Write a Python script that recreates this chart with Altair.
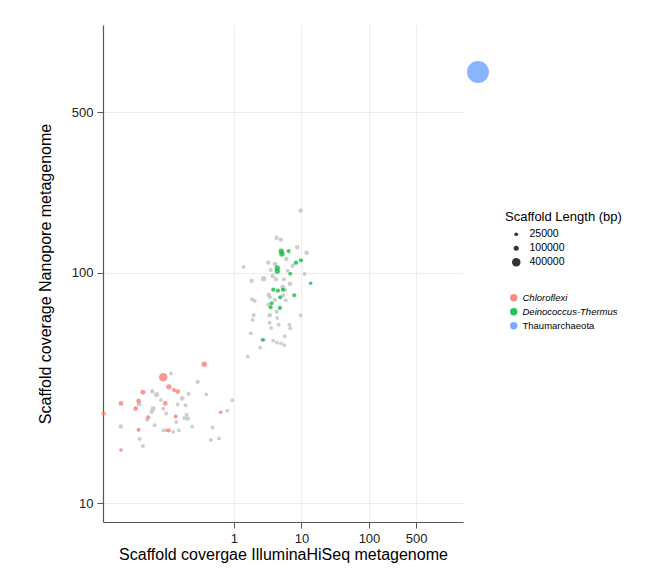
import altair as alt
import pandas as pd

# Unclassified scaffolds (grey)
other_x = [0.1166, 0.29, 0.0616, 0.0716, 0.213, 0.389, 0.083, 0.1715, 0.944, 0.0395,
           0.0637, 0.0897, 0.1466, 0.1925, 0.0604, 0.0993, 0.199, 0.796, 0.052, 0.1835,
           0.206, 0.14, 0.0669, 0.241, 0.0212, 0.483, 0.0897, 0.0983, 0.126, 0.153,
           0.0401, 0.456, 0.6, 0.0449, 1.596,
           9.73, 4.29, 4.97, 8.67, 11.94, 1.39, 3.22, 4.05, 5.95, 7.41,
           6.25, 3.5, 11.15, 1.83, 2.75, 3.74, 4.19, 5.5, 6.76, 5.32,
           3.27, 3.41, 5.75, 5.37, 1.85, 2.03, 4.05, 3.22, 5.83, 3.38,
           1.96, 4.29, 4.38, 9.73, 1.89, 3.38, 4.59, 6.6, 6.82, 3.57,
           1.77, 5.64, 2.81, 3.82, 4.34, 4.97, 5.56, 2.45]
other_y = [36.6, 33.6, 30.6, 29.6, 29.8, 29.7, 28.0, 28.5, 28.0, 26.9,
           25.7, 25.7, 26.8, 26.6, 24.9, 24.5, 24.2, 25.2, 23.0, 23.4,
           23.3, 22.5, 21.8, 21.5, 21.5, 21.3, 20.7, 20.7, 20.4, 20.7,
           19.0, 18.8, 19.1, 17.7, 43.3,
           186.7, 142.4, 139.6, 129.4, 122.5, 106.2, 110.9, 109.4, 115.1, 107.6,
           102.3, 103.0, 99.0, 92.6, 94.4, 97.0, 93.9, 93.9, 89.6, 86.7,
           80.5, 78.4, 84.3, 80.0, 76.9, 75.5, 76.4, 72.8, 76.1, 65.5,
           65.6, 67.9, 63.7, 65.5, 62.5, 60.8, 59.6, 59.6, 57.5, 57.7,
           54.7, 53.1, 51.2, 50.8, 49.8, 49.5, 48.6, 47.3]
other_len = [30000, 50000, 60000, 120000, 40000, 25000, 20000, 80000, 30000, 90000,
             90000, 30000, 40000, 40000, 50000, 40000, 40000, 25000, 50000, 40000,
             80000, 30000, 40000, 25000, 60000, 40000, 30000, 30000, 25000, 25000,
             40000, 40000, 30000, 40000, 25000,
             60000, 60000, 60000, 70000, 70000, 40000, 60000, 80000, 60000, 60000,
             40000, 40000, 40000, 60000, 120000, 60000, 60000, 40000, 80000, 100000,
             60000, 40000, 40000, 40000, 40000, 40000, 40000, 40000, 30000, 60000,
             40000, 40000, 30000, 25000, 30000, 30000, 40000, 30000, 30000, 30000,
             30000, 30000, 30000, 30000, 25000, 25000, 30000, 30000]

# Chloroflexi
chloro_x = [0.0897, 0.363, 0.109, 0.129, 0.1466, 0.0449, 0.0212, 0.0387, 0.096, 0.035,
            0.0537, 0.137, 0.0387, 0.108, 0.635, 0.0212, 0.0118]
chloro_y = [35.2, 40.1, 32.0, 31.0, 30.5, 30.3, 27.1, 27.8, 27.1, 25.7,
            23.6, 23.8, 20.8, 20.7, 24.8, 17.0, 24.5]
chloro_len = [400000, 120000, 120000, 50000, 90000, 90000, 80000, 70000, 80000, 80000,
              50000, 40000, 40000, 60000, 20000, 20000, 40000]

# Deinococcus-Thermus
deino_x = [5.02, 5.14, 6.46, 9.83, 8.29, 4.38, 4.38, 6.82, 13.7, 3.82,
           4.48, 5.32, 4.85, 7.82, 3.62, 3.5, 4.8, 2.66]
deino_y = [124.3, 121.0, 124.6, 113.5, 110.9, 105.1, 101.7, 99.3, 90.2, 84.6,
           83.8, 84.6, 78.4, 80.0, 73.8, 71.0, 70.5, 51.2]
deino_len = [120000, 120000, 50000, 50000, 60000, 120000, 120000, 30000, 20000, 50000,
             50000, 40000, 50000, 40000, 40000, 40000, 50000, 30000]

# Thaumarchaeota
thaum_x = [4120]
thaum_y = [748]
thaum_len = [3000000]

taxa = ["Chloroflexi", "Deinococcus-Thermus", "Thaumarchaeota", "Other"]
colors = ["#F8766D", "#00BA38", "#619CFF", "#BDBDBD"]
x_ticks = [1, 10, 100, 500]
y_ticks = [10, 100, 500]
size_legend_values = [25000, 100000, 400000]

frames = []
for name, xs, ys, ls in [("Other", other_x, other_y, other_len),
                         ("Chloroflexi", chloro_x, chloro_y, chloro_len),
                         ("Deinococcus-Thermus", deino_x, deino_y, deino_len),
                         ("Thaumarchaeota", thaum_x, thaum_y, thaum_len)]:
    frames.append(pd.DataFrame({"illumina": xs, "nanopore": ys, "length": ls, "taxon": name}))
df = pd.concat(frames, ignore_index=True)

FONT = "Liberation Sans"

chart = alt.Chart(df).mark_circle(opacity=0.75).encode(
    x=alt.X("illumina:Q",
            scale=alt.Scale(type="log", domain=[0.0115, 2470], nice=False),
            axis=alt.Axis(values=x_ticks, labelExpr="datum.value + ''",
                          title="Scaffold covergae IlluminaHiSeq metagenome")),
    y=alt.Y("nanopore:Q",
            scale=alt.Scale(type="log", domain=[8.27, 1197], nice=False),
            axis=alt.Axis(values=y_ticks, labelExpr="datum.value + ''",
                          title="Scaffold coverage Nanopore metagenome")),
    color=alt.Color("taxon:N",
                    scale=alt.Scale(domain=taxa, range=colors),
                    legend=alt.Legend(values=taxa[:3], title=None, orient="none",
                                      legendX=406, legendY=268,
                                      symbolType="circle", symbolSize=55,
                                      symbolOpacity=0.85,
                                      labelFontSize=9.5, labelFont=FONT,
                                      rowPadding=3, symbolStrokeWidth=0,
                                      labelFontStyle=alt.ExprRef("datum.label == 'Thaumarchaeota' ? 'normal' : 'italic'"))),
    size=alt.Size("length:Q",
                  scale=alt.Scale(domain=[0, 3000000], range=[10, 480]),
                  legend=alt.Legend(values=size_legend_values, title="Scaffold Length (bp)",
                                    format="d",
                                    orient="none", legendX=402, legendY=186,
                                    titleFontSize=13, titleFont=FONT, titleFontWeight="normal",
                                    titleColor="#000000",
                                    labelFontSize=10.5, labelFont=FONT,
                                    symbolType="circle", symbolFillColor="#333333",
                                    symbolStrokeWidth=0, symbolOpacity=1,
                                    symbolOffset=6, labelOffset=8,
                                    rowPadding=3)),
).properties(
    width=360, height=497,
    autosize=alt.AutoSizeParams(type="none"),
    padding={"left": 95, "top": 17, "right": 186, "bottom": 43},
).configure_axis(
    labelFont=FONT, titleFont=FONT, labelFontSize=13, titleFontSize=16,
    titleFontWeight="normal", labelColor="#222222", titleColor="#000000",
    domainColor="#555555", tickColor="#555555", tickSize=6, domainWidth=1.2,
    gridColor="#EDEDED", gridWidth=1, labelPadding=4,
).configure_axisX(titlePadding=1).configure_axisY(titlePadding=18).configure_view(
    stroke="transparent"
)

chart.save("out.html", embed_options={"renderer": "svg", "actions": False})
